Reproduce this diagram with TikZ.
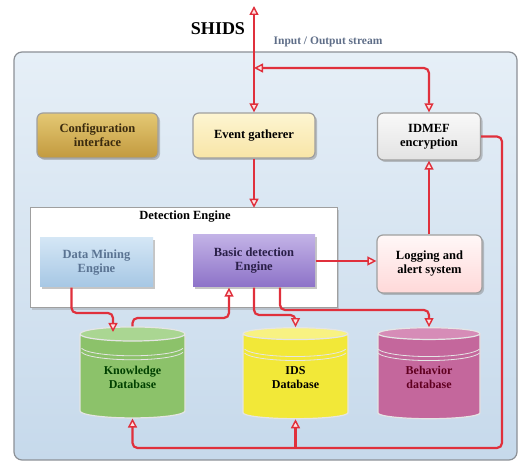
\documentclass[tikz,border=0pt]{standalone}
\usepackage{fontspec}
\setmainfont{Liberation Serif}
\usetikzlibrary{arrows.meta,shapes.geometric,shadows}

\definecolor{flowred}{HTML}{E0303C}
\definecolor{framegray}{HTML}{8C9096}
\definecolor{skytop}{HTML}{E6EFF7}
\definecolor{skybot}{HTML}{C6D9EB}
\definecolor{streamtext}{HTML}{5F6E88}
\definecolor{goldtop}{HTML}{E4C874}
\definecolor{goldbot}{HTML}{C29A3E}
\definecolor{goldtext}{HTML}{3A2A0E}
\definecolor{creamtop}{HTML}{FDF5D2}
\definecolor{creambot}{HTML}{F8E5A6}
\definecolor{minetop}{HTML}{D4E6F5}
\definecolor{minebot}{HTML}{A6C7E4}
\definecolor{minetext}{HTML}{5A7392}
\definecolor{basictop}{HTML}{C2B2E6}
\definecolor{basicbot}{HTML}{8D72C8}
\definecolor{basictext}{HTML}{2A1F48}
\definecolor{knowbody}{HTML}{8CC26A}
\definecolor{knowend}{HTML}{AAD692}
\definecolor{idsbody}{HTML}{F2E838}
\definecolor{idsend}{HTML}{F8F282}
\definecolor{behavbody}{HTML}{C4679C}
\definecolor{behavend}{HTML}{D68CB7}

\begin{document}
\begin{tikzpicture}[x=1pt, y=1pt,
    box/.style = {draw=gray!75, line width=1.2pt, rounded corners=6pt, align=center,
      font=\bfseries\fontsize{12.5}{14}\selectfont,
      drop shadow={shadow xshift=2pt, shadow yshift=-2pt, opacity=.45}},
    flatbox/.style = {box, rounded corners=0pt, draw=none},
    db/.style = {cylinder, shape border rotate=90, aspect=0.22, minimum width=105pt,
      minimum height=91pt, draw=white!80!gray, line width=1.2pt, cylinder uses custom fill,
      align=center, font=\bfseries\fontsize{12}{14}\selectfont},
    flow/.style = {draw=flowred, line width=2.2pt, rounded corners=5pt,
      >={Triangle[length=9pt, width=9pt, line width=1.4pt, fill=red!12!white]}}]
  \useasboundingbox (0,0) rectangle (520,463);
  \draw[framegray, line width=1.2pt, rounded corners=8pt, top color=skytop, bottom color=skybot]
    (14,411) rectangle (517,3);
  \node[font=\bfseries\fontsize{18}{20}\selectfont] (title) at (218,434) {SHIDS};
  \node[font=\bfseries\fontsize{11.5}{13}\selectfont, text=streamtext] (stream) at (328,421) {Input / Output stream};

  \node[box, minimum width=121pt, minimum height=45pt, top color=goldtop, bottom color=goldbot, text=goldtext]
    (config) at (97.5,327.5) {Configuration\\interface};
  \node[box, minimum width=122pt, minimum height=45pt, top color=creamtop, bottom color=creambot]
    (event) at (254,327.5) {Event gatherer};
  \node[box, minimum width=103pt, minimum height=47pt, top color=gray!5, bottom color=gray!22]
    (idmef) at (429,326.5) {IDMEF\\encryption};

  \draw[gray!75, line width=1pt, fill=white, drop shadow={shadow xshift=2pt, shadow yshift=-2pt, opacity=.3}]
    (30,255) rectangle (337,155);
  \node[font=\bfseries\fontsize{12.5}{14}\selectfont] (detect) at (185,246) {Detection Engine};
  \node[flatbox, minimum width=113pt, minimum height=49pt, top color=minetop, bottom color=minebot, text=minetext]
    (mining) at (96.5,200.5) {Data Mining\\Engine};
  \node[flatbox, minimum width=122pt, minimum height=52pt, top color=basictop, bottom color=basicbot, text=basictext]
    (basic) at (254,202) {Basic detection\\Engine};
  \node[box, minimum width=105pt, minimum height=58pt, top color=red!3!white, bottom color=red!15!white]
    (logging) at (429.5,199) {Logging and\\alert system};

  \node[db, cylinder body fill=knowbody, cylinder end fill=knowend, text=green!25!black]
    (know) at (132.5,85.5) {Knowledge\\Database};
  \node[db, cylinder body fill=idsbody, cylinder end fill=idsend]
    (ids) at (295.5,85.5) {IDS\\Database};
  \node[db, minimum width=102pt, cylinder body fill=behavbody, cylinder end fill=behavend, text=purple!50!black]
    (behav) at (429,85.5) {Behavior\\database};
  \foreach \db in {know, ids, behav} {
    \draw[white!90!black, line width=0.8pt] ([xshift=-51pt, yshift=-22pt]\db.north) arc[start angle=190, end angle=350, x radius=51.5pt, y radius=9pt];
    \draw[white!90!black, line width=0.8pt] ([xshift=-51pt, yshift=-26pt]\db.north) arc[start angle=190, end angle=350, x radius=51.5pt, y radius=9pt];
  }

  \coordinate (io) at (254,457);
  \coordinate (split) at (254,395);
  \coordinate (bus) at (502,15);
  \draw[flow, <->] (io) -- (event.north);
  \draw[flow, <->] (split) -| (idmef.north);
  \draw[flow, ->] (event.south) -- (detect.north -| event.south);
  \draw[flow, ->] (basic.east) -- (basic.east -| logging.west);
  \draw[flow, ->] (logging.north -| idmef.south) -- (idmef.south);
  \draw[flow, ->] (idmef.east) -| (bus) -| (know.south);
  \draw[flow, ->] (ids.south |- bus) -- (ids.south);
  \draw[flow, ->] ([xshift=-25pt]mining.south) |- (113,150) -- (113,131);
  \draw[flow, ->] (know.north) |- (229,145) -- ([xshift=-25pt]basic.south);
  \draw[flow, ->] (basic.south) |- (295.5,148) -- (ids.north);
  \draw[flow, ->] ([xshift=26pt]basic.south) |- (429,153) -- (behav.north);
\end{tikzpicture}
\end{document}
